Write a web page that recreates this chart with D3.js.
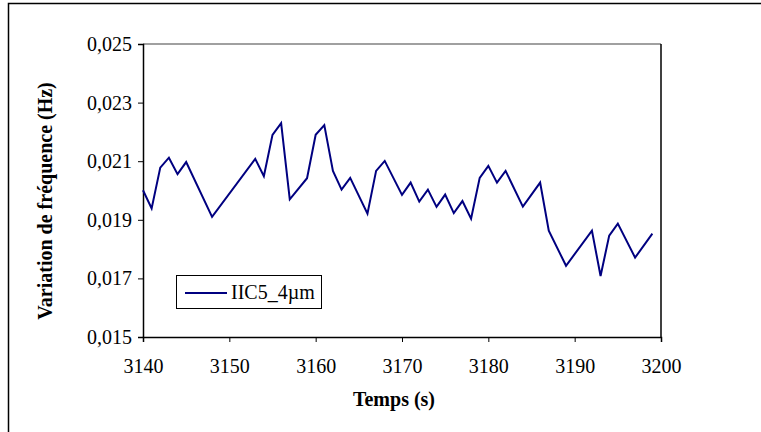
<!DOCTYPE html>
<html>
<head>
<meta charset="utf-8">
<script src="https://cdn.jsdelivr.net/npm/d3@7"></script>
<style>
  body { margin: 0; background: #fff; }
  text { font-family: "Liberation Serif", "Times New Roman", serif; }
</style>
</head>
<body>
<div id="vis"></div>
<script>
// data (seconds with no sample are left out)
let times = [3140, 3141, 3142, 3143, 3144, 3145, 3148, 3153, 3154, 3155, 3156, 3157,
    3159, 3160, 3161, 3162, 3163, 3164, 3166, 3167, 3168, 3170, 3171, 3172, 3173,
    3174, 3175, 3176, 3177, 3178, 3179, 3180, 3181, 3182, 3184, 3186, 3187, 3189,
    3192, 3193, 3194, 3195, 3197, 3199];
let freqVar = [0.02001, 0.01939, 0.02078, 0.02112, 0.02056, 0.02097, 0.01910, 0.02108,
    0.02049, 0.02190, 0.02230, 0.01970, 0.02042, 0.02190, 0.02223, 0.02067, 0.02003,
    0.02043, 0.01921, 0.02067, 0.02101, 0.01985, 0.02027, 0.01962, 0.02003, 0.01944,
    0.01986, 0.01923, 0.01964, 0.01904, 0.02043, 0.02084, 0.02027, 0.02067, 0.01945,
    0.02027, 0.01863, 0.01743, 0.01863, 0.01708, 0.01846, 0.01887, 0.01771, 0.01853];
let xTicks = [3140, 3150, 3160, 3170, 3180, 3190, 3200];
let yTicks = [0.015, 0.017, 0.019, 0.021, 0.023, 0.025];
let seriesName = 'IIC5_4\u00b5m';

let W = 761, H = 432;
let margin = { top: 44, left: 143, right: 100, bottom: 95 };
let width = W - margin.left - margin.right,
    height = H - margin.top - margin.bottom;

let svg = d3.select('#vis')
    .append('svg')
    .attr('width', W)
    .attr('height', H);

// outer frame (only left and top edges show in the picture)
svg.append('path')
    .attr('d', 'M8.5,' + H + 'V3.5H' + W)
    .attr('fill', 'none')
    .attr('stroke', '#000')
    .attr('stroke-width', 1.5);

let g = svg.append('g')
    .attr('transform', 'translate(' + margin.left + ',' + margin.top + ')');

let x = d3.scaleLinear().domain([3140, 3200]).range([0, width]);
let y = d3.scaleLinear().domain([0.015, 0.025]).range([height, 0]);

// plot frame: grey top, black right
g.append('line')
    .attr('x1', 0).attr('x2', width).attr('y1', 0).attr('y2', 0)
    .attr('stroke', '#808080').attr('stroke-width', 1.5);
g.append('line')
    .attr('x1', width).attr('x2', width).attr('y1', 0).attr('y2', height)
    .attr('stroke', '#000').attr('stroke-width', 1.5);

let fmt = d => d3.format('.3f')(d).replace('.', ',');

let yAxis = g.append('g')
    .call(d3.axisLeft(y).tickValues(yTicks).tickFormat(fmt).tickSize(5).tickPadding(6));
let xAxis = g.append('g')
    .attr('transform', 'translate(0,' + height + ')')
    .call(d3.axisBottom(x).tickValues(xTicks).tickFormat(d3.format('d')).tickSize(5).tickPadding(17));

[xAxis, yAxis].forEach(a => {
    a.selectAll('.domain').attr('stroke', '#000').attr('stroke-width', 1.5);
    a.selectAll('.tick line').attr('stroke', '#000').attr('stroke-width', 1);
    a.selectAll('text')
        .attr('fill', '#000')
        .style('font-family', '"Liberation Serif", serif')
        .style('font-size', '20px');
});

let line = d3.line()
    .x((d, i) => x(times[i]))
    .y(d => y(d));

g.append('path')
    .datum(freqVar)
    .attr('fill', 'none')
    .attr('stroke', '#000080')
    .attr('stroke-width', 2)
    .attr('stroke-linejoin', 'miter')
    .attr('d', line);

// axis titles
svg.append('text')
    .attr('x', 394)
    .attr('y', 406)
    .attr('text-anchor', 'middle')
    .style('font-size', '20px')
    .style('font-weight', 'bold')
    .text('Temps (s)');

svg.append('text')
    .attr('transform', 'translate(52,201) rotate(-90)')
    .attr('text-anchor', 'middle')
    .style('font-size', '20px')
    .style('font-weight', 'bold')
    .text('Variation de fr\u00e9quence (Hz)');

// legend
let legend = svg.append('g');
legend.append('rect')
    .attr('x', 176.5).attr('y', 275.5)
    .attr('width', 145).attr('height', 33)
    .attr('fill', '#fff')
    .attr('stroke', '#000').attr('stroke-width', 1);
legend.append('line')
    .attr('x1', 185).attr('x2', 227).attr('y1', 293).attr('y2', 293)
    .attr('stroke', '#000080').attr('stroke-width', 2);
legend.append('text')
    .attr('x', 231).attr('y', 299)
    .style('font-size', '20px')
    .text(seriesName);
</script>
</body>
</html>
